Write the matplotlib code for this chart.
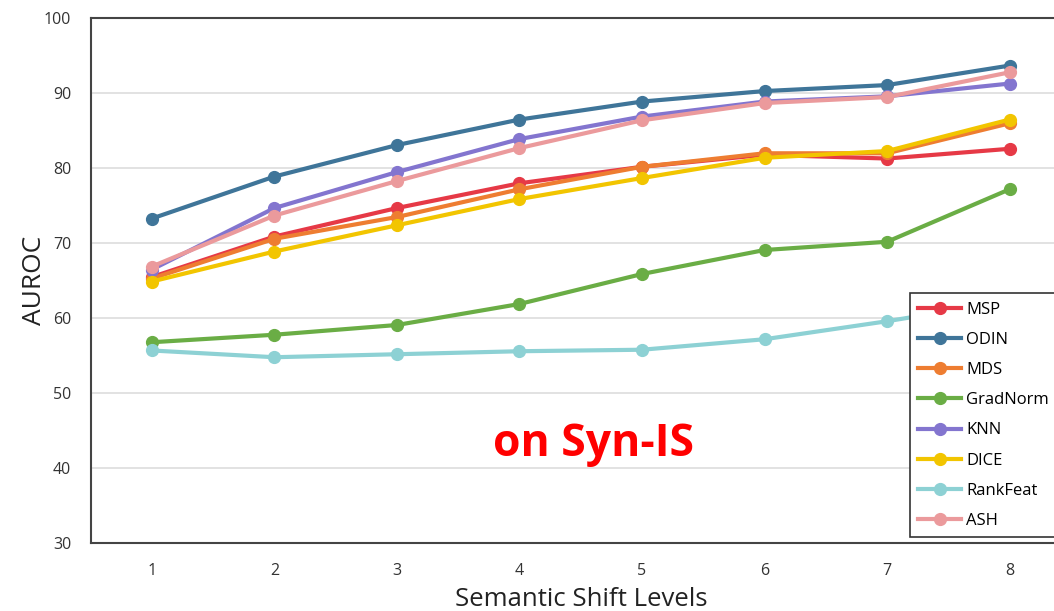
import matplotlib
matplotlib.use("Agg")
import matplotlib.pyplot as plt

plt.rcParams['font.family'] = ['Open Sans', 'DejaVu Sans']

levels = [1, 2, 3, 4, 5, 6, 7, 8]
msp = [65.5, 70.9, 74.7, 78.0, 80.2, 81.8, 81.3, 82.6]
odin = [73.3, 78.9, 83.1, 86.5, 88.9, 90.3, 91.1, 93.7]
mds = [65.3, 70.6, 73.5, 77.2, 80.2, 82.0, 82.0, 86.0]
gradnorm = [56.8, 57.8, 59.1, 61.9, 65.9, 69.1, 70.2, 77.2]
knn = [66.5, 74.7, 79.5, 83.9, 86.9, 88.9, 89.6, 91.3]
dice = [64.9, 68.9, 72.4, 75.9, 78.7, 81.4, 82.3, 86.5]
rankfeat = [55.7, 54.8, 55.2, 55.6, 55.8, 57.2, 59.6, 62.3]
ash = [66.9, 73.7, 78.3, 82.7, 86.4, 88.7, 89.5, 92.8]

series = [("MSP", msp, "#e63946"), ("ODIN", odin, "#3f7599"),
          ("MDS", mds, "#ee7d31"), ("GradNorm", gradnorm, "#6aad45"),
          ("KNN", knn, "#8375cf"), ("DICE", dice, "#f2c500"),
          ("RankFeat", rankfeat, "#8dd1d4"), ("ASH", ash, "#eb9a9c")]

fig = plt.figure(figsize=(10.54, 6.11), dpi=100)
ax = fig.add_axes([0.086, 0.111, 0.930, 0.859])

for name, vals, col in series:
    ax.plot(levels, vals, '-o', color=col, lw=3, ms=8.5, label=name)

ax.set_xlim(0.5, 8.5)
ax.set_ylim(30, 100)
ax.set_yticks(range(30, 101, 10))
ax.set_xticks(levels)
ax.tick_params(axis='y', length=0, labelsize=11.5, colors='#333333', pad=14)
ax.tick_params(axis='x', length=0, labelsize=11.5, colors='#333333', pad=14)
ax.yaxis.grid(True, color='#dddddd', lw=1.2)
ax.set_axisbelow(True)
for s in ax.spines.values():
    s.set_color('#444444')
    s.set_linewidth(1.5)

ax.set_ylabel('AUROC', fontsize=19, color='#222222', labelpad=-2)
ax.set_xlabel('Semantic Shift Levels', fontsize=18.5, color='#222222', labelpad=6)

ax.text(4.6, 43.1, 'on Syn-IS', color='#ff0000', fontsize=32,
        fontweight='bold', ha='center', va='center')

leg = ax.legend(loc='upper left', bbox_to_anchor=(0.8355, 0.476),
                fontsize=12, handlelength=2.6, labelspacing=0.85,
                borderaxespad=0, handletextpad=0.3, borderpad=0.5,
                fancybox=False, framealpha=1)
leg.get_frame().set_edgecolor('#333333')
leg.get_frame().set_linewidth(1.2)

fig.savefig('out.png', dpi=100)
